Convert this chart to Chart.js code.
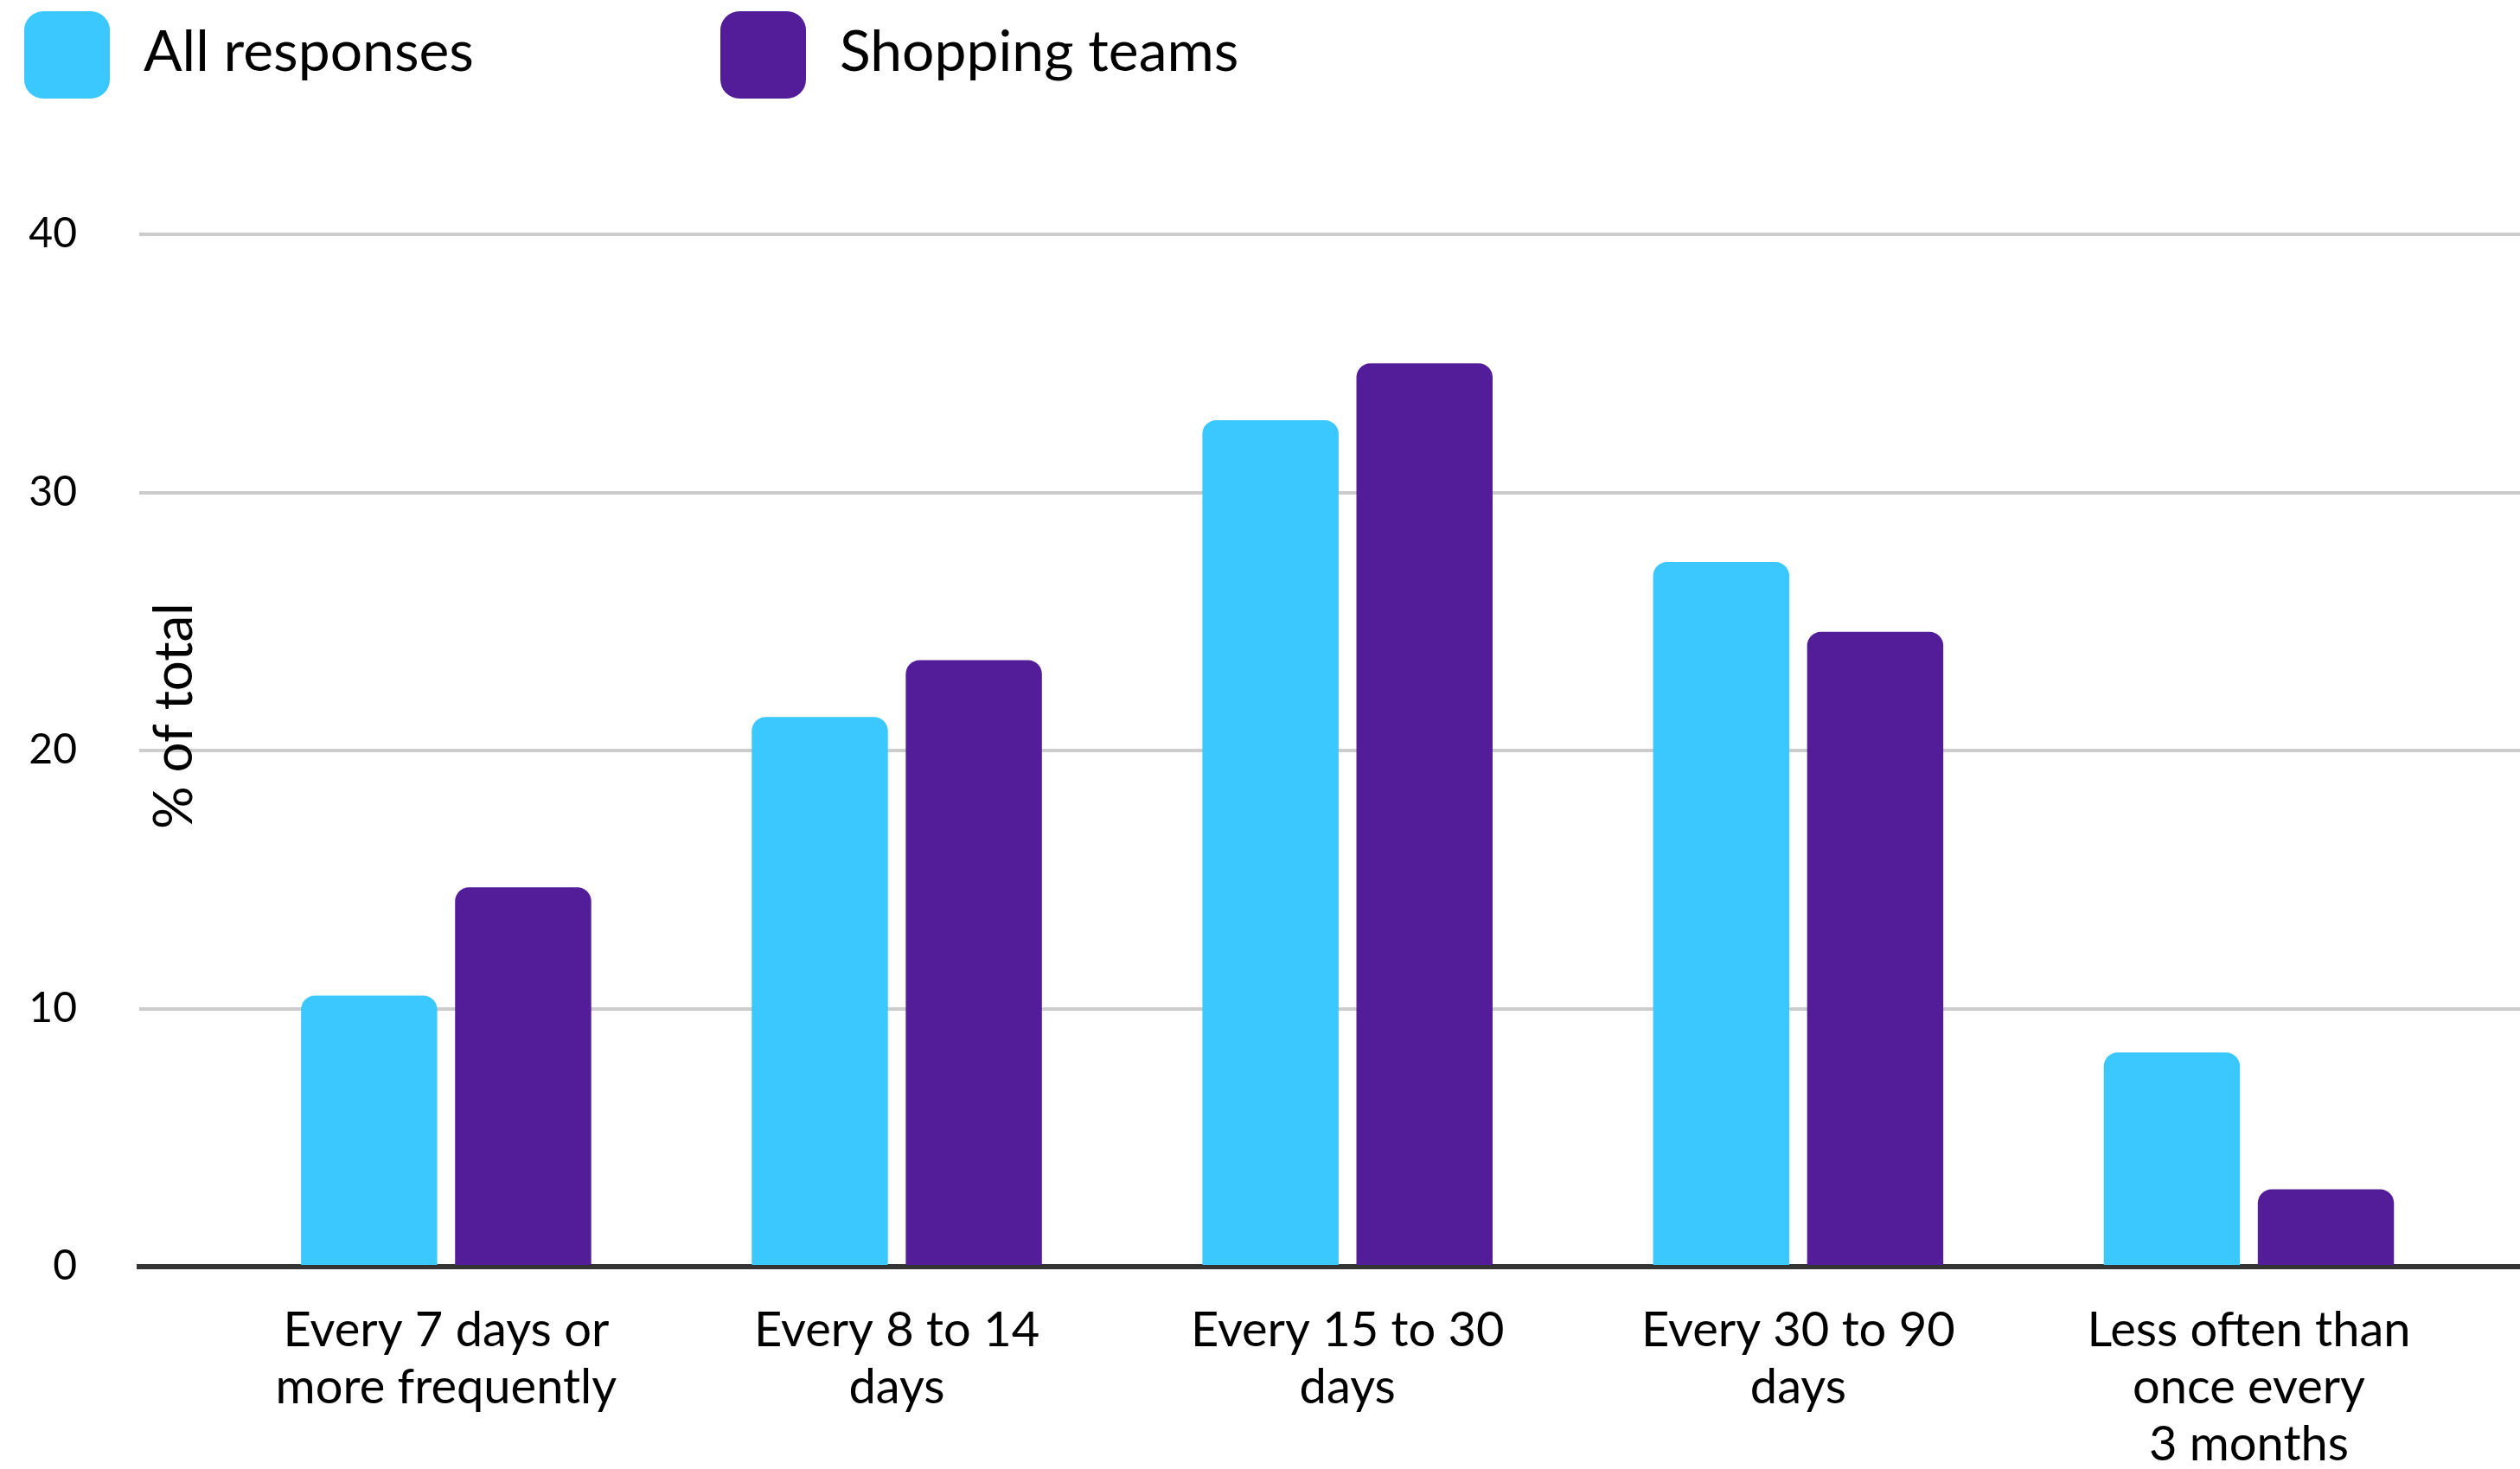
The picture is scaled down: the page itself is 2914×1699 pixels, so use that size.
<!DOCTYPE html>
<html>
<head>
<meta charset="utf-8">
<script src="https://cdn.jsdelivr.net/npm/chart.js@4.4.1/dist/chart.umd.min.js"></script>
<style>
  html, body { margin: 0; padding: 0; background: #ffffff; }
  canvas { display: block; }
</style>
</head>
<body>
<canvas id="chart" width="2914" height="1699"></canvas>
<script>
// Shopping frequency: share of respondents per bucket (%)
const categories = [
  ['Every 7 days or', 'more frequently'],
  ['Every 8 to 14', 'days'],
  ['Every 15 to 30', 'days'],
  ['Every 30 to 90', 'days'],
  ['Less often than', 'once every', '3 months']
];
const allResponses  = [10.5, 21.3, 32.8, 27.3, 8.3];
const shoppingTeams = [14.7, 23.5, 35.0, 24.6, 3.0];
const seriesNames   = ['All responses', 'Shopping teams'];
const seriesColors  = ['#3AC8FE', '#531C98'];
const yTickValues   = [0, 10, 20, 30, 40];
const yAxisTitle    = '% of total';

const FONT = 'Lato';

// Legend drawn as a row of rounded swatches across the top
const topLegend = {
  id: 'topLegend',
  afterDraw(chart) {
    const ctx = chart.ctx;
    const starts = [28, 833];
    ctx.save();
    ctx.font = `66px ${FONT}`;
    ctx.textAlign = 'left';
    ctx.textBaseline = 'alphabetic';
    chart.data.datasets.forEach((ds, i) => {
      const x = starts[i];
      ctx.fillStyle = ds.backgroundColor;
      ctx.beginPath();
      ctx.roundRect(x, 13, 99, 101, 22);
      ctx.fill();
      ctx.fillStyle = '#000000';
      ctx.fillText(ds.label, x + 138, 82);
    });
    ctx.restore();
  }
};

// Rotated y-axis title sitting just inside the plot area
const innerYTitle = {
  id: 'innerYTitle',
  afterDraw(chart) {
    const { ctx, chartArea } = chart;
    ctx.save();
    ctx.translate(chartArea.left + 61, chartArea.top + 557);
    ctx.rotate(-Math.PI / 2);
    ctx.font = `62px ${FONT}`;
    ctx.fillStyle = '#000000';
    ctx.textAlign = 'center';
    ctx.textBaseline = 'alphabetic';
    ctx.fillText(yAxisTitle, 0, 0);
    ctx.restore();
  }
};

function build() {
  const ctx = document.getElementById('chart').getContext('2d');
  new Chart(ctx, {
    type: 'bar',
    data: {
      datasets: [allResponses, shoppingTeams].map((vals, i) => ({
        label: seriesNames[i],
        data: vals.map((v, idx) => ({ x: idx, y: v })),
        backgroundColor: seriesColors[i],
        borderWidth: 0,
        borderSkipped: 'start',
        borderRadius: { topLeft: 16, topRight: 16, bottomLeft: 0, bottomRight: 0 },
        categoryPercentage: 0.6835,
        barPercentage: 0.884
      }))
    },
    options: {
      responsive: false,
      devicePixelRatio: 1,
      animation: false,
      layout: { padding: { top: 271, left: 0, right: 0, bottom: 0 } },
      plugins: {
        legend: { display: false },
        tooltip: { enabled: false },
        title: { display: false }
      },
      scales: {
        x: {
          type: 'linear',
          offset: false,
          min: -0.681,
          max: 4.6016,
          z: 1,
          afterBuildTicks(axis) {
            axis.ticks = categories.map((_, i) => ({ value: i }));
          },
          afterFit(axis) { axis.height = 234; },
          grid: { display: false, drawTicks: false, offset: false },
          border: { display: true, color: '#333333', width: 6 },
          ticks: {
            autoSkip: false,
            maxRotation: 0,
            minRotation: 0,
            padding: 41,
            color: '#000000',
            font: { family: FONT, size: 56, lineHeight: 66 / 56 },
            callback: (value) => categories[value] ?? ''
          }
        },
        y: {
          min: 0,
          max: 40,
          afterBuildTicks(axis) {
            axis.ticks = yTickValues.map(v => ({ value: v }));
          },
          afterFit(axis) { axis.width = 161; },
          border: { display: false },
          grid: {
            drawTicks: false,
            color: (c) => c.tick && c.tick.value === 0 ? 'rgba(0,0,0,0)' : '#CCCCCC',
            lineWidth: 4
          },
          ticks: {
            padding: 72,
            color: '#000000',
            font: { family: FONT, size: 48 }
          }
        }
      }
    },
    plugins: [topLegend, innerYTitle]
  });
}

if (document.fonts && document.fonts.load) {
  Promise.all([
    document.fonts.load(`66px ${FONT}`),
    document.fonts.load(`56px ${FONT}`),
    document.fonts.load(`48px ${FONT}`)
  ]).then(build, build);
} else {
  build();
}
</script>
</body>
</html>
